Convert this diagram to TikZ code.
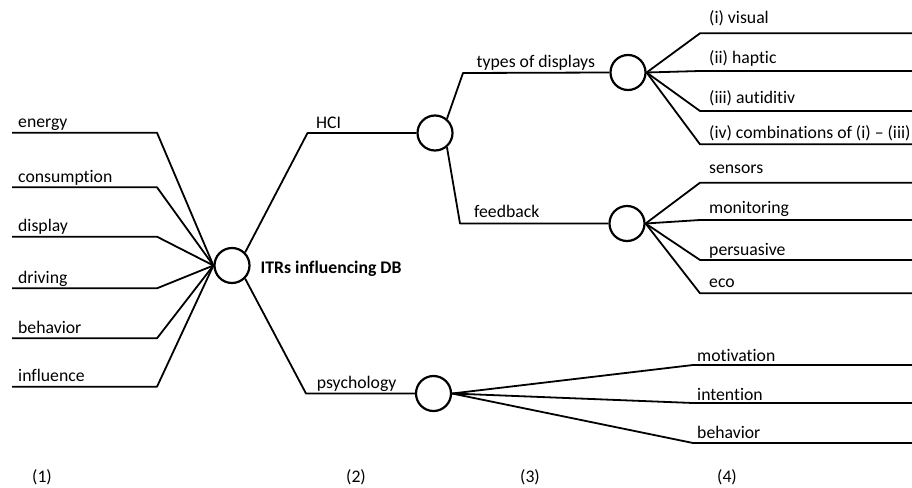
\documentclass[tikz,border=0pt]{standalone}
\usepackage{fontspec}
\setmainfont{Carlito}[Ligatures={NoCommon}]
\begin{document}
\begin{tikzpicture}[x=1pt,y=-1pt,
  every node/.style={font=\fontsize{17.7}{21}\selectfont, inner sep=0pt},
  hub/.style={draw, circle, line width=2.2pt, minimum size=35pt, fill=white},
  link/.style={line width=1.8pt, line join=round},
  lbl/.style={anchor=base west},
  colno/.style={anchor=base}]
\useasboundingbox (0,0) rectangle (912,487);

% hubs of the mind map
\node[hub] (root)  at (232,265.5) {};
\node[hub] (hci)   at (435,133)   {};
\node[hub] (types) at (628,72.5)  {};
\node[hub] (fb)    at (627,223.5) {};
\node[hub] (psy)   at (433.5,393.5) {};

\node[anchor=base west, font=\fontsize{17.7}{21}\selectfont\bfseries] (title) at (260.5,273.5) {ITRs influencing DB};

% level (1): keywords feeding the root
\foreach \name/\y/\txt in {en/132.7/energy, co/187.3/consumption, di/236.7/display,
                           dr/288.3/driving, be/338.3/behavior, in/386.7/influence} {
  \coordinate (\name-a) at (12,\y);
  \coordinate (\name-b) at (157,\y);
  \draw[link] (\name-a) -- (\name-b) -- (root.west);
  \node[lbl] (\name-t) at (18,\y-5) {\txt};
}

% level (2): HCI and psychology
\coordinate (hciK) at (307.5,133);
\draw[link] (root.45) -- (hciK) -- (hci.west);
\node[lbl] (hci-t) at (316,128.5) {HCI};

\coordinate (psyK) at (306,393.5);
\draw[link] (root.-45) -- (psyK) -- (psy.west);
\node[lbl] (psy-t) at (316.7,388.5) {psychology};

% level (3): types of displays and feedback
\coordinate (typK) at (463,73);
\draw[link] (hci.50) -- (typK) -- (types.west);
\node[lbl] (typ-t) at (476.5,67) {types of displays};

\coordinate (fbK) at (460,223.5);
\draw[link] (hci.-50) -- (fbK) -- (fb.west);
\node[lbl] (fb-t) at (474,217) {feedback};

% level (4): leaves of types of displays
\foreach \name/\y/\d/\txt in {v/33.3/10/(i) visual, h/71/7.7/(ii) haptic,
                              a/111/7.7/(iii) autiditiv,
                              c/144.3/6/{(iv) combinations of (i) – (iii)}} {
  \coordinate (\name-k) at (700,\y);
  \coordinate (\name-e) at (912,\y);
  \draw[link] (types.east) -- (\name-k) -- (\name-e);
  \node[lbl] (\name-t) at (709,\y-\d) {\txt};
}

% level (4): leaves of feedback
\foreach \name/\y/\d/\txt in {se/182.7/9.4/sensors, mo/220/6.7/monitoring,
                              pe/260/5/persuasive, ec/293.3/6/eco} {
  \coordinate (\name-k) at (700,\y);
  \coordinate (\name-e) at (912,\y);
  \draw[link] (fb.east) -- (\name-k) -- (\name-e);
  \node[lbl] (\name-t) at (709,\y-\d) {\txt};
}

% level (4): leaves of psychology
\foreach \name/\y/\d/\txt in {mt/365/3.3/motivation, it/403/3/intention, bh/443/5/behavior} {
  \coordinate (\name-k) at (693,\y);
  \coordinate (\name-e) at (912,\y);
  \draw[link] (psy.east) -- (\name-k) -- (\name-e);
  \node[lbl] (\name-t) at (697,\y-\d) {\txt};
}

% column numbers
\node[colno] (n1) at (42,482)  {(1)};
\node[colno] (n2) at (356,482) {(2)};
\node[colno] (n3) at (530,482) {(3)};
\node[colno] (n4) at (727,482) {(4)};
\end{tikzpicture}
\end{document}
